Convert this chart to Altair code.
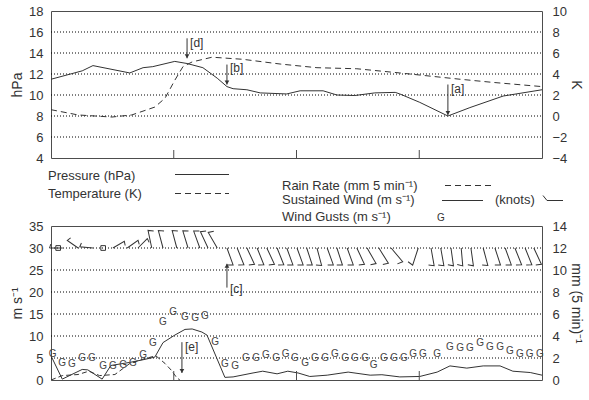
import altair as alt
import pandas as pd

# ------------------------------------------------------------------ data
# x is hours across the four-day record (0 = left edge, 96 = right edge)
day_ticks = [0, 24, 48, 72, 96]
day_labels = ["/07", "/06", "/05", "/04", "/03"]

# station pressure (hPa) and temperature (K)
pres_hours = [0, 6.1, 8.2, 15.4, 18.0, 19.9, 24.2, 26.6, 29.7, 32.5, 34.4, 35.6, 38.3, 40.9,
              46.1, 48.7, 53.2, 55.9, 59.4, 63.3, 67.3, 68.2, 72.1, 77.6, 81.9, 88.4, 96]
pres_hpa = [11.5, 12.3, 12.8, 12.1, 12.6, 12.7, 13.2, 13.0, 12.6, 11.6, 10.8, 10.6, 10.5, 10.2,
            10.1, 10.4, 10.4, 10.0, 9.95, 10.2, 10.25, 10.1, 9.3, 8.0, 8.8, 9.9, 10.5]
temp_hours = [0, 5.3, 11.9, 15.8, 20.3, 22.3, 24.2, 25.8, 27.6, 31.5, 37.5, 44.8, 52.0, 59.8,
              68.2, 80.0, 86.4, 96]
temp_k = [0.6, 0.1, -0.1, 0.1, 0.85, 1.7, 3.4, 4.7, 5.15, 5.6, 5.4, 4.95, 4.6, 4.5,
          4.1, 3.5, 3.2, 2.8]
hpa_grid = [6, 8, 10, 12, 14, 16]

# sustained wind (m/s), rain rate (mm per 5 min), gusts (m/s)
wind_hours = [0, 2.2, 6.1, 7.2, 10.0, 11.7, 15.4, 18.0, 20.3, 21.9, 24.2, 26.2, 27.6, 29.5,
              30.5, 34.0, 35.6, 39.5, 41.4, 44.2, 46.3, 48.3, 50.6, 54.0, 58.1, 62.4, 64.7,
              68.2, 72.1, 75.5, 78.0, 81.3, 84.5, 87.8, 90.3, 93.7, 96]
wind_ms = [5.5, 0.2, 2.4, 2.3, 0.2, 3.3, 4.0, 4.6, 5.2, 8.5, 10.2, 11.5, 11.6, 10.9,
           10.2, 0.6, 0.7, 1.6, 2.0, 1.4, 2.0, 1.6, 0.8, 1.1, 1.8, 1.1, 1.2,
           0.7, 0.8, 1.8, 3.2, 2.7, 3.2, 3.2, 2.0, 1.7, 1.1]
rain_hours = [0, 2.2, 5.3, 7.4, 9.5, 12.5, 15.4, 18.0, 20.5, 22.3, 23.5, 24.6, 25.2]
rain_mm = [0.0, 0.4, 0.5, 0.8, 0.4, 0.5, 1.5, 1.9, 2.2, 1.5, 0.9, 0.2, 0.0]
gust_hours = [0.3, 2.2, 4.1, 6.1, 8.0, 10.2, 12.1, 14.1, 16.0, 18.0, 19.9, 21.9, 23.9, 26.2,
              28.2, 30.1, 32.1, 34.0, 36.0, 38.1, 40.1, 42.0, 44.0, 45.9, 47.7, 49.7, 51.6,
              53.6, 55.5, 57.5, 59.4, 61.4, 63.1, 65.1, 67.1, 69.0, 70.8, 72.7, 75.5, 78.0,
              80.0, 81.9, 83.9, 85.8, 87.8, 89.7, 91.7, 93.6, 95.6]
gust_ms = [6.0, 3.9, 3.7, 5.1, 5.1, 3.2, 3.2, 3.5, 3.9, 5.6, 8.3, 13.2, 15.5, 14.4,
           14.2, 14.6, 8.6, 3.7, 3.2, 5.1, 5.1, 5.6, 5.1, 5.8, 5.1, 3.9, 5.1,
           5.1, 5.8, 5.1, 5.1, 5.1, 3.5, 5.1, 5.1, 5.1, 5.8, 5.8, 5.8, 7.6,
           7.2, 7.2, 8.3, 7.4, 7.4, 6.7, 6.0, 6.0, 6.0]
ms_grid = [5, 10, 15, 20, 25, 30]

# wind barbs (knots) plotted along the 30 m/s line; angle = staff rotation, clockwise from up
barb_level = 30
light_barb_hours = [2.3, 5.3, 8.2, 12.1, 14.9, 17.0]
light_barb_angle = [270, 305, 275, 60, 55, 45]
calm_hours = [1.4, 10.2]
barb_hours = [19.7, 21.9, 24.6, 26.8, 29.1, 30.7, 32.5, 34.4, 36.4, 38.3, 40.3, 42.2, 44.2,
              46.1, 48.1, 50.0, 52.0, 54.0, 55.9, 57.9, 59.8, 61.8, 64.1, 66.5, 71.8, 74.3,
              76.2, 78.2, 80.2, 82.1, 84.5, 86.8, 88.8, 90.7, 92.7, 94.4]
barb_angle = [348, 345, 345, 343, 340, 335, 330, 160, 158, 155, 158, 155, 158,
              160, 160, 162, 165, 160, 162, 160, 155, 150, 148, 140, 198, 170,
              170, 172, 175, 172, 165, 162, 160, 158, 158, 155]

# event markers
top_mark_hours = [26.6, 34.4, 77.6]
top_mark_from = [15.4, 12.9, 11.0]
top_mark_to = [13.5, 11.0, 8.1]
top_mark_label_at = [15.0, 12.6, 10.6]
top_mark_text = ["[d]", "[b]", "[a]"]
e_mark = {"h": [25.6], "y1": [8.6], "y2": [1.6], "ly": [7.4], "t": ["[e]"]}
c_mark = {"h": [34.4], "y1": [21.0], "y2": [26.4], "ly": [20.6], "t": ["[c]"]}

# ------------------------------------------------------------------ style
INK = "#333333"
FRAME = "#4d4d4d"
GRID = "#000000"
FONT = "Liberation Sans"
BARB = "M0,0L0,-1L0.3,-0.9"
KEY_BARB = "M1,0L-0.6,0L-1,-0.5"

# panel heights chosen so every grid step is a whole number of pixels
W, H_TOP, H_LEG, H_BOT = 491, 147, 68, 154

x_scale = alt.Scale(domain=[0, 96], nice=False)
x_plain = alt.X("h:Q", scale=x_scale, axis=None)


def left_axis(values, title):
    return alt.Axis(orient="left", values=values, title=title, grid=False, domain=False,
                    ticks=False, tickSize=0, labelPadding=8, titlePadding=4)


def right_axis(values, title):
    return alt.Axis(orient="right", values=values, title=title, titleAngle=90, grid=False,
                    domain=False, ticks=False, tickSize=0, labelPadding=10, titlePadding=2)


def dotted_grid(values, scale):
    return alt.Chart(pd.DataFrame({"v": values})).mark_rule(
        color=GRID, strokeWidth=1, strokeDash=[1, 2], opacity=1).encode(
        x=alt.value(0), x2=alt.value(W),
        y=alt.Y("v:Q", scale=scale, axis=None))


def inner_ticks(height, length):
    return alt.Chart(pd.DataFrame({"h": day_ticks[1:-1]})).mark_rule(
        color=FRAME, strokeWidth=1).encode(
        x=x_plain, y=alt.value(height - length), y2=alt.value(height))


def arrow(df, scale, head, yoff):
    base = alt.Chart(pd.DataFrame(df))
    shaft = base.mark_rule(color=INK, strokeWidth=1).encode(
        x=x_plain, y=alt.Y("y1:Q", scale=scale, axis=None), y2="y2:Q")
    tip = base.mark_point(shape=head, filled=True, size=22, color=INK, opacity=1,
                          yOffset=yoff).encode(
        x=x_plain, y=alt.Y("y2:Q", scale=scale, axis=None))
    label = base.mark_text(align="left", baseline="middle", dx=3, font=FONT, fontSize=12,
                           color=INK).encode(
        x=x_plain, y=alt.Y("ly:Q", scale=scale, axis=None), text="t:N")
    return [shaft, tip, label]


# ------------------------------------------------------------------ top panel
# every layer carries its own y scale (same fixed domains), so only two axes are drawn
hpa_scale = alt.Scale(domain=[4, 18], nice=False)
k_scale = alt.Scale(domain=[-4, 10], nice=False)

pressure = alt.Chart(pd.DataFrame({"h": pres_hours, "v": pres_hpa})).mark_line(
    color=INK, strokeWidth=1).encode(
    x=x_plain, y=alt.Y("v:Q", scale=hpa_scale, axis=left_axis(list(range(4, 19, 2)), "hPa")))

temperature = alt.Chart(pd.DataFrame({"h": temp_hours, "v": temp_k})).mark_line(
    color=INK, strokeWidth=1, strokeDash=[6, 4]).encode(
    x=x_plain, y=alt.Y("v:Q", scale=k_scale, axis=right_axis(list(range(-4, 11, 2)), "K")))

top_marks = arrow({"h": top_mark_hours, "y1": top_mark_from, "y2": top_mark_to,
                   "ly": top_mark_label_at, "t": top_mark_text}, hpa_scale, "triangle-down", -2)

top = alt.layer(
    dotted_grid(hpa_grid, hpa_scale), pressure, temperature, inner_ticks(H_TOP, 8), *top_marks,
).resolve_scale(y="independent").properties(
    width=W, height=H_TOP, view=alt.ViewBackground(stroke=FRAME, strokeWidth=1))

# ------------------------------------------------------------------ legend block
one = alt.Data(values=[{}])


def key_text(label, x, y, size=13):
    return alt.Chart(one).mark_text(align="left", baseline="middle", font=FONT, fontSize=size,
                                    color=INK, text=label).encode(
        x=alt.value(x), y=alt.value(y))


def key_line(x1, x2, y, dash=None):
    opts = {"color": INK, "strokeWidth": 1}
    if dash:
        opts["strokeDash"] = dash
    return alt.Chart(one).mark_rule(**opts).encode(
        x=alt.value(x1), x2=alt.value(x2), y=alt.value(y))


legend = alt.layer(
    key_text("Pressure (hPa)", -3, 17.5),
    key_line(124, 178, 16.5),
    key_text("Temperature (K)", -3, 35.5),
    key_line(124, 178, 35.5, [6, 4]),
    key_text("Rain Rate (mm  5 min⁻¹)", 231, 27.5),
    key_line(394, 441, 27.5, [6, 4]),
    key_text("Sustained Wind (m s⁻¹)", 231, 42),
    key_line(391, 432, 42.5),
    key_text("(knots)", 444, 42),
    alt.Chart(one).mark_point(shape=KEY_BARB, size=400, color=INK, strokeWidth=1,
                              opacity=1).encode(x=alt.value(502), y=alt.value(42.5)),
    key_text("Wind Gusts (m s⁻¹)", 231, 58.5),
    key_text("G", 386, 59.5, size=10),
).properties(width=W, height=H_LEG, view=alt.ViewBackground(stroke="transparent"))

# ------------------------------------------------------------------ bottom panel
ms_scale = alt.Scale(domain=[0, 35], nice=False)
mm_scale = alt.Scale(domain=[0, 14], nice=False)

x_days = alt.X("h:Q", scale=x_scale, axis=alt.Axis(
    values=day_ticks, labelExpr="%s[round(datum.value / 24)]" % str(day_labels),
    title=None, grid=False, domain=False, ticks=False, tickSize=0, labelPadding=5))

wind = alt.Chart(pd.DataFrame({"h": wind_hours, "v": wind_ms})).mark_line(
    color=INK, strokeWidth=1).encode(
    x=x_days, y=alt.Y("v:Q", scale=ms_scale, axis=left_axis(list(range(0, 36, 5)), "m s⁻¹")))

gusts = alt.Chart(pd.DataFrame({"h": gust_hours, "v": gust_ms})).mark_text(
    text="G", font=FONT, fontSize=10, color="#444444", baseline="middle").encode(
    x=x_plain, y=alt.Y("v:Q", scale=ms_scale, axis=None))

barbs = alt.Chart(pd.DataFrame({"h": barb_hours, "a": barb_angle, "v": barb_level})).mark_point(
    shape=BARB, size=1296, color=INK, strokeWidth=1, opacity=1).encode(
    x=x_plain, y=alt.Y("v:Q", scale=ms_scale, axis=None), angle=alt.Angle("a:Q", scale=None))

light_barbs = alt.Chart(pd.DataFrame({"h": light_barb_hours, "a": light_barb_angle,
                                      "v": barb_level})).mark_point(
    shape=BARB, size=700, color=INK, strokeWidth=1, opacity=1).encode(
    x=x_plain, y=alt.Y("v:Q", scale=ms_scale, axis=None), angle=alt.Angle("a:Q", scale=None))

calm = alt.Chart(pd.DataFrame({"h": calm_hours, "v": barb_level})).mark_point(
    shape="square", size=22, color=INK, strokeWidth=1, opacity=1).encode(
    x=x_plain, y=alt.Y("v:Q", scale=ms_scale, axis=None))

rain = alt.Chart(pd.DataFrame({"h": rain_hours, "v": rain_mm})).mark_line(
    color=INK, strokeWidth=1, strokeDash=[5, 3]).encode(
    x=x_plain, y=alt.Y("v:Q", scale=mm_scale,
                       axis=right_axis(list(range(0, 15, 2)), "mm (5 min)⁻¹")))

bottom = alt.layer(
    dotted_grid(ms_grid, ms_scale), wind, rain, gusts, light_barbs, barbs, calm,
    inner_ticks(H_BOT, 9),
    *arrow(e_mark, ms_scale, "triangle-down", -2),
    *arrow(c_mark, ms_scale, "triangle-up", 2),
).resolve_scale(y="independent").properties(
    width=W, height=H_BOT, view=alt.ViewBackground(stroke=FRAME, strokeWidth=1))

chart = alt.vconcat(top, legend, bottom, spacing=0, bounds="flush").properties(
    padding={"left": 10, "top": 4, "right": 4, "bottom": 0}
).configure_axis(
    labelFont=FONT, labelFontSize=13, labelColor=INK,
    titleFont=FONT, titleFontSize=14, titleFontWeight="normal", titleColor=INK,
).configure_view(strokeWidth=1)

chart.save("out.html", embed_options={"renderer": "svg", "actions": False})
